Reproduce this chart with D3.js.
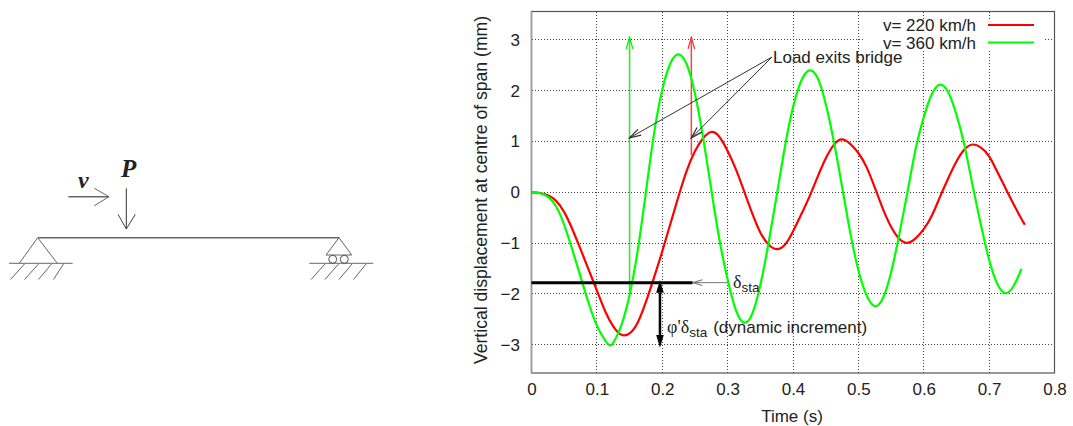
<!DOCTYPE html>
<html><head><meta charset="utf-8">
<style>html,body{margin:0;padding:0;background:#fff}svg{display:block}text{font-family:"Liberation Sans",Arial,sans-serif;fill:#222}</style>
<script src="https://cdn.jsdelivr.net/npm/d3@7"></script></head><body>
<script>
const seriesNames = ["v= 220 km/h", "v= 360 km/h"];
const seriesColors = ["#ff0000", "#00ff00"];
const redT = [0,.0125,.025,.0375,.05,.0625,.075,.0875,.1,.1125,.125,.1375,.15,.1625,.175,.1875,.2,.2125,.225,.2375,.25,.2625,.275,.2875,.3,.3125,.325,.3375,.35,.3625,.375,.3875,.4,.4125,.425,.4375,.45,.4625,.475,.4875,.5,.5125,.525,.5375,.55,.5625,.575,.5875,.6,.6125,.625,.6375,.65,.6625,.675,.6875,.7,.7125,.725,.7375,.75,.7546];
const redV = [0,-.01,-.05,-.15,-.37,-.72,-1.12,-1.53,-1.93,-2.36,-2.66,-2.84,-2.81,-2.6,-2.17,-1.68,-1.17,-.62,-.07,.45,.83,1.08,1.23,1.12,.82,.47,.03,-.42,-.82,-1.05,-1.15,-1.07,-.78,-.44,-.1,.3,.68,.96,1.08,.96,.79,.52,.1,-.34,-.7,-.94,-1.03,-.92,-.74,-.48,-.08,.28,.62,.87,.97,.89,.74,.4,.08,-.24,-.54,-.64];
const greenT = [0,.0125,.025,.0375,.05,.0625,.075,.0875,.1,.1125,.12,.125,.1375,.15,.1625,.175,.1875,.2,.2125,.225,.2375,.25,.2625,.275,.2875,.3,.3125,.325,.3375,.35,.3625,.375,.3875,.4,.4125,.425,.4375,.45,.4625,.475,.4875,.5,.5125,.525,.5375,.55,.5625,.575,.5875,.6,.6125,.625,.6375,.65,.6625,.675,.6875,.7,.7125,.725,.7375,.7495];
const greenV = [0,-.01,-.07,-.24,-.62,-1.13,-1.66,-2.2,-2.66,-2.92,-3.05,-2.98,-2.66,-2.07,-1.2,0,1.22,2.07,2.6,2.78,2.58,2.0,1.1,.05,-.98,-1.74,-2.38,-2.64,-2.47,-1.87,-1.02,-.08,.92,1.72,2.24,2.46,2.32,1.78,1.02,.12,-.82,-1.58,-2.07,-2.31,-2.15,-1.62,-.85,-.02,.9,1.5,1.98,2.18,2.02,1.55,.95,.1,-.65,-1.37,-1.85,-2.05,-1.88,-1.51];
const xTicks = [0,.1,.2,.3,.4,.5,.6,.7,.8];
const yTicks = [-3,-2,-1,0,1,2,3];
const exitT = [.2445,.15];
const exitFrom = [.73,-2.0];
const exitTo = 3.05;
const exitArrowLevel = 1.07;
const deltaSta = -1.78;
const dynTop = -1.73;
const dynBottom = -3.06;
const dynT = .1965;
const annotationLabel = "Load exits bridge";

const W=1073,H=426, L=531.5,R=1054.5,T=11.5,B=373;
const x=d3.scaleLinear().domain([0,.8]).range([L,R]);
const y=d3.scaleLinear().domain([-3.56,3.56]).range([B,T]);
const svg=d3.select("body").append("svg").attr("width",W).attr("height",H);
const defs=svg.append("defs");
function openHead(id,color,size){
  defs.append("marker").attr("id",id).attr("viewBox","-10 -5 11 10").attr("refX",0).attr("refY",0)
   .attr("markerUnits","userSpaceOnUse").attr("markerWidth",size).attr("markerHeight",size).attr("orient","auto-start-reverse")
   .append("path").attr("d","M-9,-2.6L0,0L-9,2.6").attr("fill","none").attr("stroke",color).attr("stroke-width",1);
}
openHead("hRed","#ff3030",14);openHead("hGreen","#00ee00",14);openHead("hDark","#333",14);openHead("hGray","#777",12);
defs.append("marker").attr("id","hBlack").attr("viewBox","0 -5 11 10").attr("refX",0).attr("refY",0)
   .attr("markerUnits","userSpaceOnUse").attr("markerWidth",14).attr("markerHeight",14).attr("orient","auto-start-reverse")
   .append("path").attr("d","M0,-3L10,0L0,3Z").attr("fill","#000");

// grid
const grid=svg.append("g").attr("stroke","#444").attr("stroke-width",1).attr("stroke-dasharray","1.5,1.5").attr("shape-rendering","crispEdges");
grid.selectAll(".gx").data(xTicks.slice(1,-1)).join("line").attr("x1",d=>x(d)).attr("x2",d=>x(d)).attr("y1",T).attr("y2",B);
grid.selectAll(".gy").data(yTicks).join("line").attr("x1",L).attr("x2",R).attr("y1",d=>y(d)).attr("y2",d=>y(d));
svg.append("rect").attr("x",863).attr("y",19).attr("width",180).attr("height",31).attr("fill","#fff");

// axes
const xAxis=d3.axisBottom(x).tickValues(xTicks).tickSize(0).tickPadding(10).tickFormat(d=>d===0?"0":d3.format(".1f")(d));
const yAxis=d3.axisLeft(y).tickValues(yTicks).tickSize(0).tickPadding(11.5).tickFormat(d=>d<0?"\u2212"+Math.abs(d):d);
const gx=svg.append("g").attr("transform",`translate(0,${B})`).call(xAxis);
const gy=svg.append("g").attr("transform",`translate(${L},0)`).call(yAxis);
[gx,gy].forEach(g=>{g.select(".domain").remove();g.selectAll("text").attr("font-size",17).attr("font-family","Liberation Sans").attr("fill","#222");});
svg.append("rect").attr("x",L).attr("y",T).attr("width",R-L).attr("height",B-T).attr("fill","none").attr("stroke","#555").attr("stroke-width",1.2);
svg.append("line").attr("x1",L).attr("x2",L).attr("y1",T).attr("y2",B).attr("stroke","#999").attr("stroke-width",1.6);
svg.append("text").attr("x",792).attr("y",422).attr("text-anchor","middle").attr("font-size",17).text("Time (s)");
svg.append("text").attr("transform","translate(487,190) rotate(-90)").attr("text-anchor","middle").attr("font-size",17.6).text("Vertical displacement at centre of span (mm)");

// exit arrows
svg.selectAll(".exit").data(exitT).join("line")
  .attr("x1",d=>x(d)).attr("x2",d=>x(d)).attr("y1",(d,i)=>y(exitFrom[i])).attr("y2",y(exitTo))
  .attr("stroke",(d,i)=>i?"#22ee22":"#ff4040").attr("stroke-width",1.5)
  .attr("marker-end",(d,i)=>i?"url(#hGreen)":"url(#hRed)");

// curves
const line=d3.line().x(d=>x(d[0])).y(d=>y(d[1])).curve(d3.curveBasis);
const curves=[d3.zip(redT,redV),d3.zip(greenT,greenV)];
svg.selectAll(".curve").data(curves).join("path").attr("fill","none")
  .attr("stroke",(d,i)=>seriesColors[i]).attr("stroke-width",2.2).attr("stroke-linejoin","round").attr("d",line);

// legend
seriesNames.forEach((n,i)=>{
  const ly=25+i*17.5;
  svg.append("text").attr("x",976).attr("y",ly+6).attr("text-anchor","end").attr("font-size",17).text(n);
  svg.append("line").attr("x1",988).attr("x2",1034).attr("y1",ly).attr("y2",ly).attr("stroke",seriesColors[i]).attr("stroke-width",2.2);
});

// annotation
exitT.forEach(t=>{
  svg.append("line").attr("x1",772).attr("y1",57).attr("x2",x(t)).attr("y2",y(exitArrowLevel))
   .attr("stroke","#333").attr("stroke-width",1).attr("marker-end","url(#hDark)");
});
svg.append("text").attr("x",773).attr("y",63).attr("font-size",17).text(annotationLabel);

// static deflection
svg.append("line").attr("x1",L).attr("x2",x(.2465)).attr("y1",y(deltaSta)).attr("y2",y(deltaSta)).attr("stroke","#000").attr("stroke-width",3);
svg.append("line").attr("x1",728).attr("x2",x(.2465)).attr("y1",y(deltaSta)).attr("y2",y(deltaSta)).attr("stroke","#777").attr("stroke-width",1).attr("marker-end","url(#hGray)");
const t1=svg.append("text").attr("x",733).attr("y",287.5).attr("font-size",17);
t1.append("tspan").style("font-family","Liberation Serif").attr("font-size",18).text("\u03b4");
t1.append("tspan").attr("dy",4).attr("font-size",13.5).text("sta");
const t2=svg.append("text").attr("x",667).attr("y",333).attr("font-size",17);
t2.append("tspan").style("font-family","Liberation Serif").attr("font-size",18).text("\u03c6'\u03b4");
t2.append("tspan").attr("dy",4).attr("font-size",13.5).text("sta");
t2.append("tspan").attr("dy",-4).attr("dx",6).text("(dynamic increment)");
svg.append("line").attr("x1",x(dynT)).attr("x2",x(dynT)).attr("y1",y(dynTop)+12.7).attr("y2",y(dynBottom)-12.7).attr("stroke","#000").attr("stroke-width",2.5)
  .attr("marker-start","url(#hBlack)").attr("marker-end","url(#hBlack)");

// schematic of the loaded beam
const s=svg.append("g").attr("fill","none").attr("stroke","#555").attr("stroke-width",1);
const seg=(a,b,c,d,w,col)=>s.append("line").attr("x1",a).attr("y1",b).attr("x2",c).attr("y2",d).attr("stroke-width",w||1).attr("stroke",col||"#666");
seg(38,237.7,339,237.7,1.5,"#666");
seg(37.7,237.7,19.3,263.3);seg(37.7,237.7,57.3,263.3);seg(9,263.3,72.7,263.3);
[[24.5,10.5],[38.5,24.5],[51.5,38.5],[63.5,53.5]].forEach(h=>seg(h[0],264,h[1],279.5));
seg(339,237.7,326,255);seg(339,237.7,351.7,255);seg(326,255,351.7,255);seg(309.3,263.3,373.3,263.3);
[[325,311],[338.5,325],[352,339],[366,353.5]].forEach(h=>seg(h[0],264,h[1],279.5));
[332.7,344.3].forEach(c=>s.append("circle").attr("cx",c).attr("cy",259.3).attr("r",4));
seg(68.3,196.7,109,196.7,1.4,"#666");seg(109,196.7,94.3,188.3);seg(109,196.7,94.3,205.7);
seg(126.3,188.3,126.3,229,1,"#333");seg(126.3,229,118,214.3,1,"#444");seg(126.3,229,135.3,214.3,1,"#444");
svg.append("text").attr("x",78).attr("y",188).attr("font-size",24).attr("font-weight","bold").attr("font-style","italic").style("font-family","Liberation Serif").text("v");
svg.append("text").attr("x",121).attr("y",177).attr("font-size",25).attr("font-weight","bold").attr("font-style","italic").style("font-family","Liberation Serif").text("P");
</script></body></html>
